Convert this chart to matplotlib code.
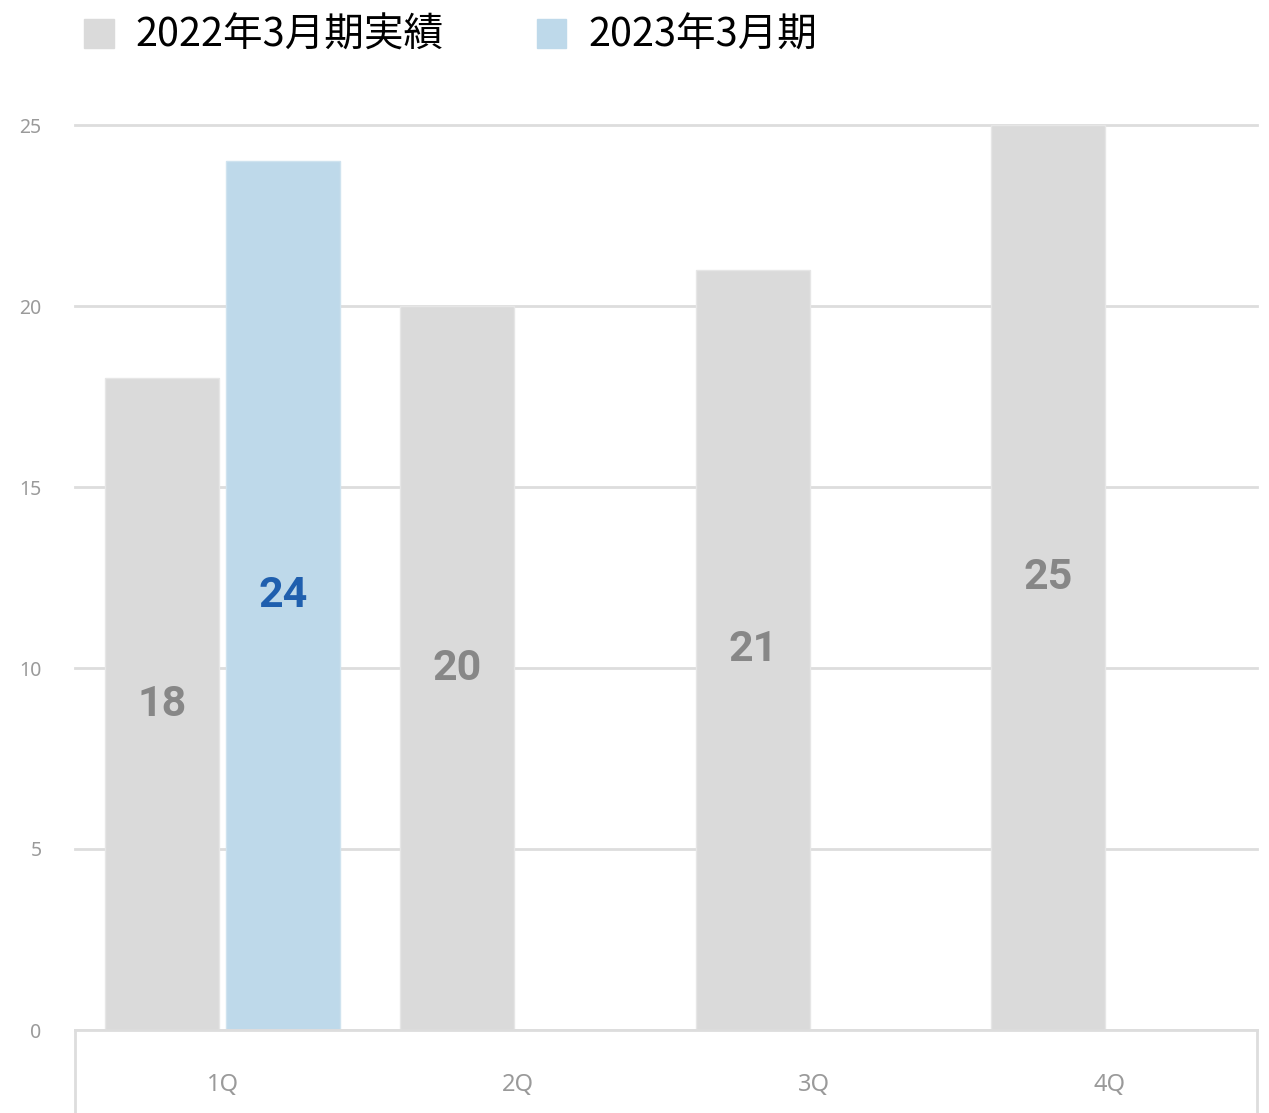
import numpy as np
import matplotlib
matplotlib.use('Agg')
import matplotlib.pyplot as plt
from matplotlib.patches import Patch

plt.rcParams['font.family'] = ['Noto Sans CJK JP', 'DejaVu Sans']

# quarterly figures
quarters = ['1Q', '2Q', '3Q', '4Q']
fy2022 = [18, 20, 21, 25]          # 2022年3月期実績
fy2023 = [24, None, None, None]    # 2023年3月期 (only 1Q so far)
series_names = ['2022年3月期実績', '2023年3月期']
yticks = [0, 5, 10, 15, 20, 25]

gray = '#dadada'
blue = '#bed9ea'
grid_col = '#dddddd'
num_font = ['Roboto', 'DejaVu Sans']

W, H = 1269, 1113
fig = plt.figure(figsize=(W / 100, H / 100), dpi=100)

x0, x1 = 75, 1257
y_zero, y_top = 1030, 125
ax = fig.add_axes([x0 / W, (H - y_zero) / H, (x1 - x0) / W, (y_zero - y_top) / H])

x = np.arange(len(quarters))
bw = 0.386
off22 = -bw / 2 - 0.013
off23 = bw / 2 + 0.01
ax.bar(x + off22, fy2022, width=bw, color=gray,
       edgecolor='#e6e6e6', linewidth=1, zorder=3)
idx23 = [i for i, v in enumerate(fy2023) if v is not None]
ax.bar(x[idx23] + off23, [fy2023[i] for i in idx23], width=bw, color=blue,
       edgecolor='#cfe3ef', linewidth=1, zorder=3)

# value labels in the middle of each bar
for i, v in enumerate(fy2022):
    ax.text(x[i] + off22, v / 2, str(v), ha='center', va='center',
            fontsize=31, fontweight='bold', color='#878787',
            family=num_font, zorder=4)
for i in idx23:
    v = fy2023[i]
    ax.text(x[i] + off23, v / 2, str(v), ha='center', va='center',
            fontsize=31, fontweight='bold', color='#1f5fae',
            family=num_font, zorder=4)

ax.set_xlim(-0.5, len(quarters) - 0.5)
ax.set_ylim(0, 25)
ax.set_yticks(yticks)
ax.set_yticklabels([str(t) for t in yticks], fontsize=14, color='#9a9a9a',
                   family=['Noto Sans', 'DejaVu Sans'])
ax.tick_params(axis='y', length=0, pad=24)
ax.set_xticks([])
ax.yaxis.grid(True, color=grid_col, linewidth=2, zorder=0)
for ln in ax.get_ygridlines():
    ln.set_clip_on(False)
for s in ['top', 'right', 'left']:
    ax.spines[s].set_visible(False)
ax.spines['bottom'].set_color(grid_col)
ax.spines['bottom'].set_linewidth(2)
ax.spines['bottom'].set_zorder(5)

# category box under the plot
axc = fig.add_axes([x0 / W, -0.02, (x1 - x0) / W, (H - y_zero) / H + 0.02])
axc.set_xlim(-0.5, len(quarters) - 0.5)
axc.set_ylim(0, 1)
axc.set_xticks([])
axc.set_yticks([])
for s in axc.spines.values():
    s.set_color(grid_col)
    s.set_linewidth(2)
for i, q in enumerate(quarters):
    axc.text(x[i], 0.48, q, ha='center', va='center', fontsize=17,
             color='#9a9a9a', family=['Noto Sans', 'DejaVu Sans'])

handles = [Patch(color=gray), Patch(color=blue)]
fig.legend(handles, series_names, loc='upper left',
           bbox_to_anchor=(84 / W, 1 - 16 / H), ncol=2, frameon=False,
           fontsize=28.5, handlelength=0.75, handleheight=0.75,
           handletextpad=0.55, columnspacing=2.35, borderpad=0,
           borderaxespad=0)

fig.savefig('out.png', dpi=100)
